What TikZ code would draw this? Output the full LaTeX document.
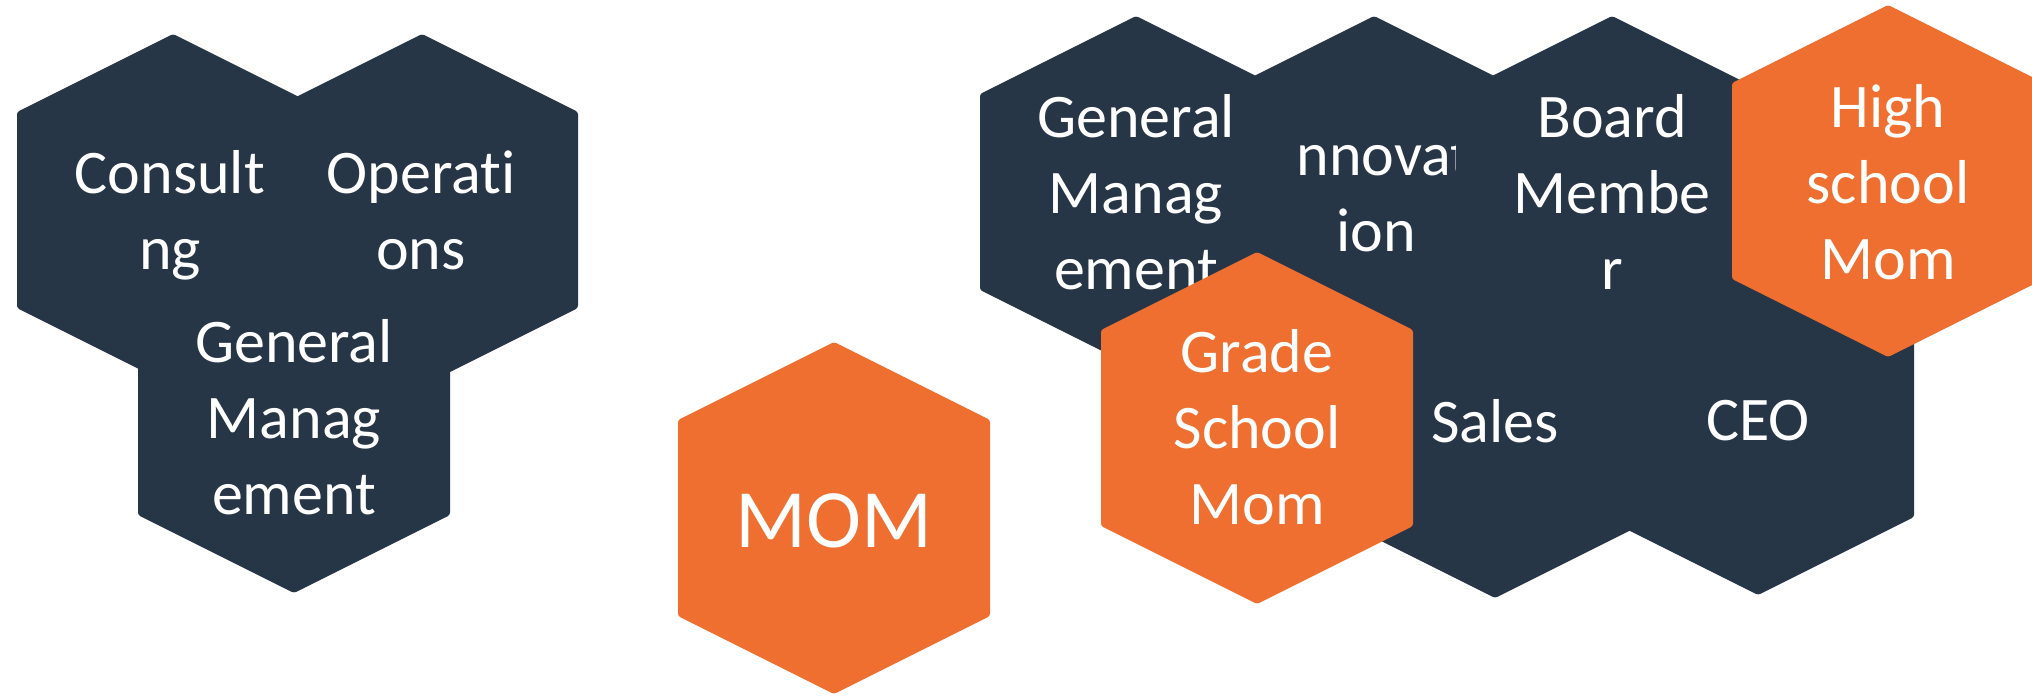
\documentclass[tikz,border=0pt]{standalone}
\usepackage{fontspec}
\setmainfont{Carlito}[Ligatures={NoCommon}]
\definecolor{navy}{HTML}{273647}
\definecolor{tangerine}{HTML}{EF6F30}
\newcommand{\hexpath}[2]{(#1-156,#2-98) -- (#1,#2-176) -- (#1+156,#2-98) -- (#1+156,#2+98) -- (#1,#2+176) -- (#1-156,#2+98) -- cycle}
\newcommand{\mlines}[1]{\begin{tabular}[t]{@{}c@{}}#1\end{tabular}}
\tikzset{
  darkhex/.style={fill=navy, rounded corners=2.5pt},
  orangehex/.style={fill=tangerine, rounded corners=2.5pt},
  hexlabel/.style={text=white, inner sep=0pt, anchor=base, font=\fontsize{62}{76}\selectfont},
  biglabel/.style={text=white, inner sep=0pt, anchor=base, font=\fontsize{83}{100}\selectfont}
}
\begin{document}
\begin{tikzpicture}[x=1pt, y=-1pt]
\useasboundingbox (0,0) rectangle (2032,696);
\clip (0,0) rectangle (2032,696);
\fill[white] (0,0) rectangle (2032,696);

% ---- left cluster ----
\fill[darkhex] \hexpath{173}{210};
\fill[darkhex] \hexpath{422}{210};
\fill[darkhex] \hexpath{294}{417};
\node[hexlabel] (consulting) at (170,193) {\mlines{Consult\\ng}};
\node[hexlabel] (operations) at (421,193) {\mlines{Operat\kern0pt i\\ons}};
\node[hexlabel] (genmgmt1) at (294,362) {\mlines{General\\Manag\\ement}};

% ---- MOM ----
\fill[orangehex] \hexpath{834}{518};
\node[biglabel] (mom) at (834,547) {MOM};

% ---- right cluster ----
\fill[darkhex] \hexpath{1374}{192};
\node[hexlabel] (innovation) at (1376,175) {\mlines{Innovat\\ion}};
\fill[darkhex] \hexpath{1136}{192};
\fill[darkhex] \hexpath{1612}{192};
\fill[darkhex] \hexpath{1495}{422};
\fill[darkhex] \hexpath{1758}{419};
\node[hexlabel] (genmgmt2) at (1136,137) {\mlines{General\\Manag\\ement}};
\node[hexlabel] (board) at (1612,137) {\mlines{Board\\Membe\\r}};
\node[hexlabel] (sales) at (1495,442) {Sales};
\node[hexlabel] (ceo) at (1758,440) {CEO};

\fill[orangehex] \hexpath{1257}{428};
\node[hexlabel] (grade) at (1257,372) {\mlines{Grade\\School\\Mom}};
\fill[orangehex] \hexpath{1888}{181};
\node[hexlabel] (high) at (1888,127) {\mlines{High\\school\\Mom}};
\end{tikzpicture}
\end{document}
